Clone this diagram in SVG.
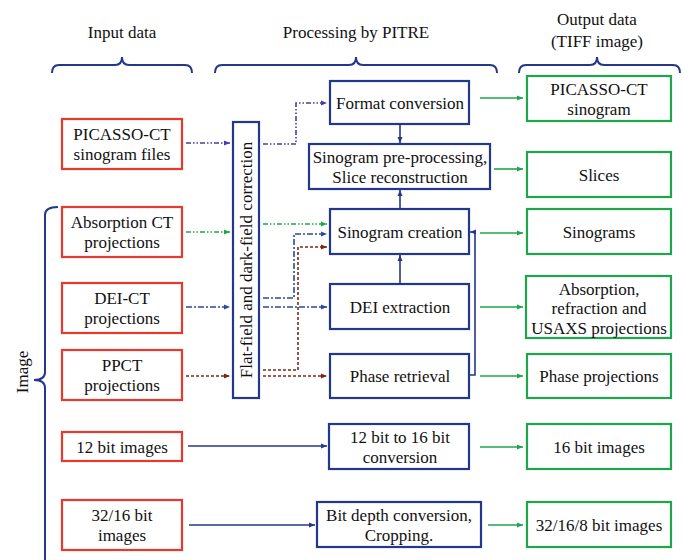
<svg xmlns="http://www.w3.org/2000/svg" width="683" height="560" viewBox="0 0 683 560">
<style>
text{font-family:"Liberation Serif","Times New Roman",serif;font-size:17px;fill:#111;text-anchor:middle}
.in{fill:#fff;stroke:#e8392e;stroke-width:2.2}
.pr{fill:#fff;stroke:#23388a;stroke-width:2.2}
.out{fill:#fff;stroke:#1fa64a;stroke-width:2.2}
.brace{fill:none;stroke:#23388a;stroke-width:2}
.c{fill:none;stroke-width:1.6}
.sb{stroke:#23388a}
.sg{stroke:#1fa64a}
.pu{stroke:#4a3ca6;stroke-dasharray:5 2 1.5 2 1.5 2}
.gd{stroke:#1fa64a;stroke-dasharray:5 2 1.5 2 1.5 2}
.bd{stroke:#2a4a9c;stroke-dasharray:6 2 2 2}
.rd{stroke:#7a2816;stroke-dasharray:3 2}
</style>
<defs>
<marker id="ab" markerWidth="7" markerHeight="6" refX="6" refY="3" orient="auto" markerUnits="userSpaceOnUse"><path d="M0,0.5 L6,3 L0,5.5z" fill="#23388a"/></marker>
<marker id="ag" markerWidth="7" markerHeight="6" refX="6" refY="3" orient="auto" markerUnits="userSpaceOnUse"><path d="M0,0.5 L6,3 L0,5.5z" fill="#1fa64a"/></marker>
<marker id="ap" markerWidth="7" markerHeight="6" refX="6" refY="3" orient="auto" markerUnits="userSpaceOnUse"><path d="M0,0.5 L6,3 L0,5.5z" fill="#4a3ca6"/></marker>
<marker id="abd" markerWidth="7" markerHeight="6" refX="6" refY="3" orient="auto" markerUnits="userSpaceOnUse"><path d="M0,0.5 L6,3 L0,5.5z" fill="#2a4a9c"/></marker>
<marker id="ar" markerWidth="7" markerHeight="6" refX="6" refY="3" orient="auto" markerUnits="userSpaceOnUse"><path d="M0,0.5 L6,3 L0,5.5z" fill="#7a2816"/></marker>
</defs>
<rect width="683" height="560" fill="#fff"/>

<g id="headers">
<text x="122" y="38">Input data</text>
<text x="356" y="38">Processing by PITRE</text>
<text x="597" y="25">Output data</text>
<text x="597" y="47">(TIFF image)</text>
<path class="brace" d="M52,73 Q52,65 59,65 L115,65 Q122,65 122,57 Q122,65 129,65 L185,65 Q192,65 192,73"/>
<path class="brace" d="M215,73 Q215,65 222,65 L349,65 Q356,65 356,57 Q356,65 363,65 L490,65 Q497,65 497,73"/>
<path class="brace" d="M519,73 Q519,65 526,65 L590,65 Q597,65 597,57 Q597,65 604,65 L673,65 Q680,65 680,73"/>
<path class="brace" d="M58,207 Q45,207 45,215 L45,372 Q45,380 34,380 Q45,380 45,388 L45,562"/>
<text transform="translate(28,372) rotate(-90)">Image</text>
</g>

<g id="in-picasso"><rect class="in" x="62" y="119" width="120" height="50"/><text x="122" y="140">PICASSO-CT</text><text x="122" y="160">sinogram files</text></g>
<g id="in-absorption"><rect class="in" x="62" y="207" width="120" height="50"/><text x="122" y="228">Absorption CT</text><text x="122" y="248">projections</text></g>
<g id="in-dei"><rect class="in" x="62" y="283" width="120" height="50"/><text x="122" y="304">DEI-CT</text><text x="122" y="324">projections</text></g>
<g id="in-ppct"><rect class="in" x="62" y="350" width="120" height="50"/><text x="122" y="371">PPCT</text><text x="122" y="391">projections</text></g>
<g id="in-12bit"><rect class="in" x="62" y="432" width="120" height="29"/><text x="122" y="452.5">12 bit images</text></g>
<g id="in-3216"><rect class="in" x="62" y="500" width="120" height="50"/><text x="122" y="521">32/16 bit</text><text x="122" y="541">images</text></g>

<g id="flatfield"><rect class="pr" x="233" y="122" width="26" height="276"/><text transform="translate(252,260) rotate(-90)">Flat-field and dark-field correction</text></g>

<g id="p-format"><rect class="pr" x="330" y="81" width="139" height="43"/><text x="400" y="108.5">Format conversion</text></g>
<g id="p-preproc"><rect class="pr" x="309" y="144" width="181" height="45"/><text x="400" y="162.5">Sinogram pre-processing,</text><text x="400" y="182.5">Slice reconstruction</text></g>
<g id="p-sinocreate"><rect class="pr" x="330" y="209" width="139" height="45"/><text x="400" y="238">Sinogram creation</text></g>
<g id="p-dei"><rect class="pr" x="330" y="284" width="139" height="45"/><text x="400" y="313">DEI extraction</text></g>
<g id="p-phase"><rect class="pr" x="330" y="354" width="139" height="44"/><text x="400" y="382">Phase retrieval</text></g>
<g id="p-12to16"><rect class="pr" x="329" y="424" width="140" height="45"/><text x="400" y="442.5">12 bit to 16 bit</text><text x="400" y="462.5">conversion</text></g>
<g id="p-bitdepth"><rect class="pr" x="317" y="502" width="164" height="45"/><text x="399" y="520.5">Bit depth conversion,</text><text x="399" y="540.5">Cropping.</text></g>

<g id="o-picasso"><rect class="out" x="527" y="76" width="144" height="45"/><text x="599" y="94.5">PICASSO-CT</text><text x="599" y="114.5">sinogram</text></g>
<g id="o-slices"><rect class="out" x="527" y="152" width="144" height="45"/><text x="599" y="180.5">Slices</text></g>
<g id="o-sinograms"><rect class="out" x="527" y="209" width="144" height="45"/><text x="599" y="238">Sinograms</text></g>
<g id="o-absorption"><rect class="out" x="526" y="276" width="145" height="62"/><text x="599" y="294.5">Absorption,</text><text x="599" y="314">refraction and</text><text x="599" y="333.5">USAXS projections</text></g>
<g id="o-phase"><rect class="out" x="527" y="354" width="144" height="44"/><text x="599" y="382">Phase projections</text></g>
<g id="o-16bit"><rect class="out" x="527" y="424" width="144" height="45"/><text x="599" y="452.5">16 bit images</text></g>
<g id="o-32168"><rect class="out" x="527" y="502" width="144" height="45"/><text x="599" y="531">32/16/8 bit images</text></g>

<g id="connectors">
<path class="c pu" d="M186,143 L230,143" marker-end="url(#ap)"/>
<path class="c gd" d="M186,232 L230,232" marker-end="url(#ag)"/>
<path class="c bd" d="M186,307 L230,307" marker-end="url(#abd)"/>
<path class="c rd" d="M186,376 L230,376" marker-end="url(#ar)"/>

<path class="c pu" d="M263,144 L296,144 L296,103 L327,103" marker-end="url(#ap)"/>
<path class="c gd" d="M263,224 L327,224" marker-end="url(#ag)"/>
<path class="c bd" d="M263,298 L294,298 L294,234 L327,234" marker-end="url(#abd)"/>
<path class="c bd" d="M263,307 L327,307" marker-end="url(#abd)"/>
<path class="c rd" d="M263,370 L298,370 L298,247 L327,247" marker-end="url(#ar)"/>
<path class="c rd" d="M263,376 L327,376" marker-end="url(#ar)"/>

<path class="c sb" d="M188,446 L327,446" marker-end="url(#ab)"/>
<path class="c sb" d="M189,525 L315,525" marker-end="url(#ab)"/>
<path class="c sb" d="M400,124 L400,143" marker-end="url(#ab)"/>
<path class="c sb" d="M400,209 L400,190" marker-end="url(#ab)"/>
<path class="c sb" d="M400,284 L400,255" marker-end="url(#ab)"/>
<path class="c sb" d="M469,375 L475,375 L475,232 L470,232" marker-end="url(#ab)"/>

<path class="c sg" d="M480,98 L523,98" marker-end="url(#ag)"/>
<path class="c sg" d="M494,169 L523,169" marker-end="url(#ag)"/>
<path class="c sg" d="M480,233 L523,233" marker-end="url(#ag)"/>
<path class="c sg" d="M480,307 L523,307" marker-end="url(#ag)"/>
<path class="c sg" d="M480,376 L523,376" marker-end="url(#ag)"/>
<path class="c sg" d="M480,447 L523,447" marker-end="url(#ag)"/>
<path class="c sg" d="M488,525 L523,525" marker-end="url(#ag)"/>
</g>
</svg>
